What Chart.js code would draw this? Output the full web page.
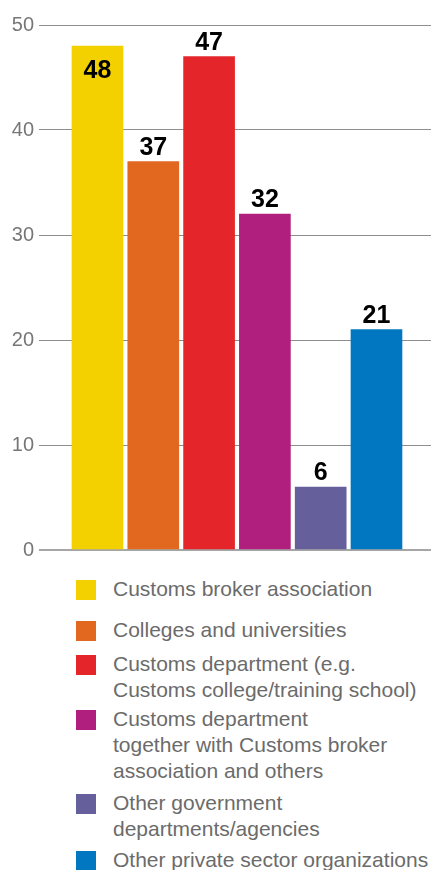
<!DOCTYPE html>
<html>
<head>
<meta charset="utf-8">
<script src="https://cdn.jsdelivr.net/npm/chart.js@4/dist/chart.umd.min.js"></script>
<style>
  html, body { margin: 0; padding: 0; background: #ffffff; }
  #wrap { position: relative; width: 431px; height: 870px; overflow: hidden; }
  #plot { position: absolute; left: 0; top: 0; width: 431px; height: 567px; }
  #legend { position: absolute; left: 0; top: 0; width: 431px; margin: 0; padding: 0; list-style: none; }
  #legend li { position: absolute; left: 0; width: 431px; }
  #legend .sw { position: absolute; left: 76px; width: 20px; height: 20px; top: 4px; }
  #legend .tx { position: absolute; left: 113px; white-space: nowrap;
    font: 21px/26px "Liberation Sans", Arial, sans-serif; color: #6b6b6b; }
</style>
</head>
<body>
<div id="wrap">
  <div id="plot"><canvas id="chart"></canvas></div>
  <ul id="legend"></ul>
</div>
<script>
// Share of respondents by training provider
const categories = [
  ["Customs broker association"],
  ["Colleges and universities"],
  ["Customs department (e.g.", "Customs college/training school)"],
  ["Customs department", "together with Customs broker", "association and others"],
  ["Other government", "departments/agencies"],
  ["Other private sector organizations"]
];
const values = [48, 37, 47, 32, 6, 21];
const colors = ["#f3d100", "#e2681f", "#e4262b", "#b11f7e", "#655f9b", "#0077c0"];
const yTicks = [0, 10, 20, 30, 40, 50];

// vertical offsets of the legend rows (page layout)
const legendTops = [576, 617, 651, 706, 790, 847];

const valueLabels = {
  id: 'valueLabels',
  afterDatasetsDraw(chart) {
    const { ctx, chartArea } = chart;
    const meta = chart.getDatasetMeta(0);
    ctx.save();
    ctx.font = 'bold 25px "Liberation Sans", Arial, sans-serif';
    ctx.fillStyle = '#000000';
    ctx.textAlign = 'center';
    ctx.textBaseline = 'alphabetic';
    meta.data.forEach((bar, i) => {
      const text = String(values[i]);
      let baseY = bar.y - 7;
      if (baseY - 18 < chartArea.top) baseY = bar.y + 32;
      ctx.fillText(text, bar.x, baseY);
    });
    ctx.restore();
  }
};

new Chart(document.getElementById('chart'), {
  type: 'bar',
  data: {
    datasets: [{
      data: values.map((v, i) => ({ x: i, y: v })),
      backgroundColor: colors,
      borderWidth: 0,
      barThickness: 51
    }]
  },
  options: {
    responsive: true,
    maintainAspectRatio: false,
    animation: false,
    layout: { padding: { top: 25, bottom: 10, left: 0, right: 0 } },
    plugins: { legend: { display: false }, tooltip: { enabled: false } },
    scales: {
      x: {
        type: 'linear',
        display: false,
        offset: false,
        grid: { offset: false },
        min: -1.048,
        max: 5.977
      },
      y: {
        min: 0,
        max: 50,
        afterFit(scale) { scale.width = 39; },
        afterBuildTicks(scale) { scale.ticks = yTicks.map(v => ({ value: v })); },
        border: { display: false },
        grid: {
          drawTicks: false,
          tickLength: 0,
          color: c => c.tick && c.tick.value === 0 ? '#a6a6a6' : '#8e8e8e',
          lineWidth: c => c.tick && c.tick.value === 0 ? 2 : 1
        },
        ticks: {
          padding: 5,
          color: '#777777',
          font: { family: '"Liberation Sans", Arial, sans-serif', size: 20 }
        }
      }
    }
  },
  plugins: [valueLabels]
});

// Legend built from the same categories and colours
const legend = document.getElementById('legend');
categories.forEach((lines, i) => {
  const li = document.createElement('li');
  li.style.top = legendTops[i] + 'px';
  const sw = document.createElement('span');
  sw.className = 'sw';
  sw.style.background = colors[i];
  const tx = document.createElement('span');
  tx.className = 'tx';
  tx.innerHTML = lines.join('<br>');
  li.appendChild(sw);
  li.appendChild(tx);
  legend.appendChild(li);
});
</script>
</body>
</html>
